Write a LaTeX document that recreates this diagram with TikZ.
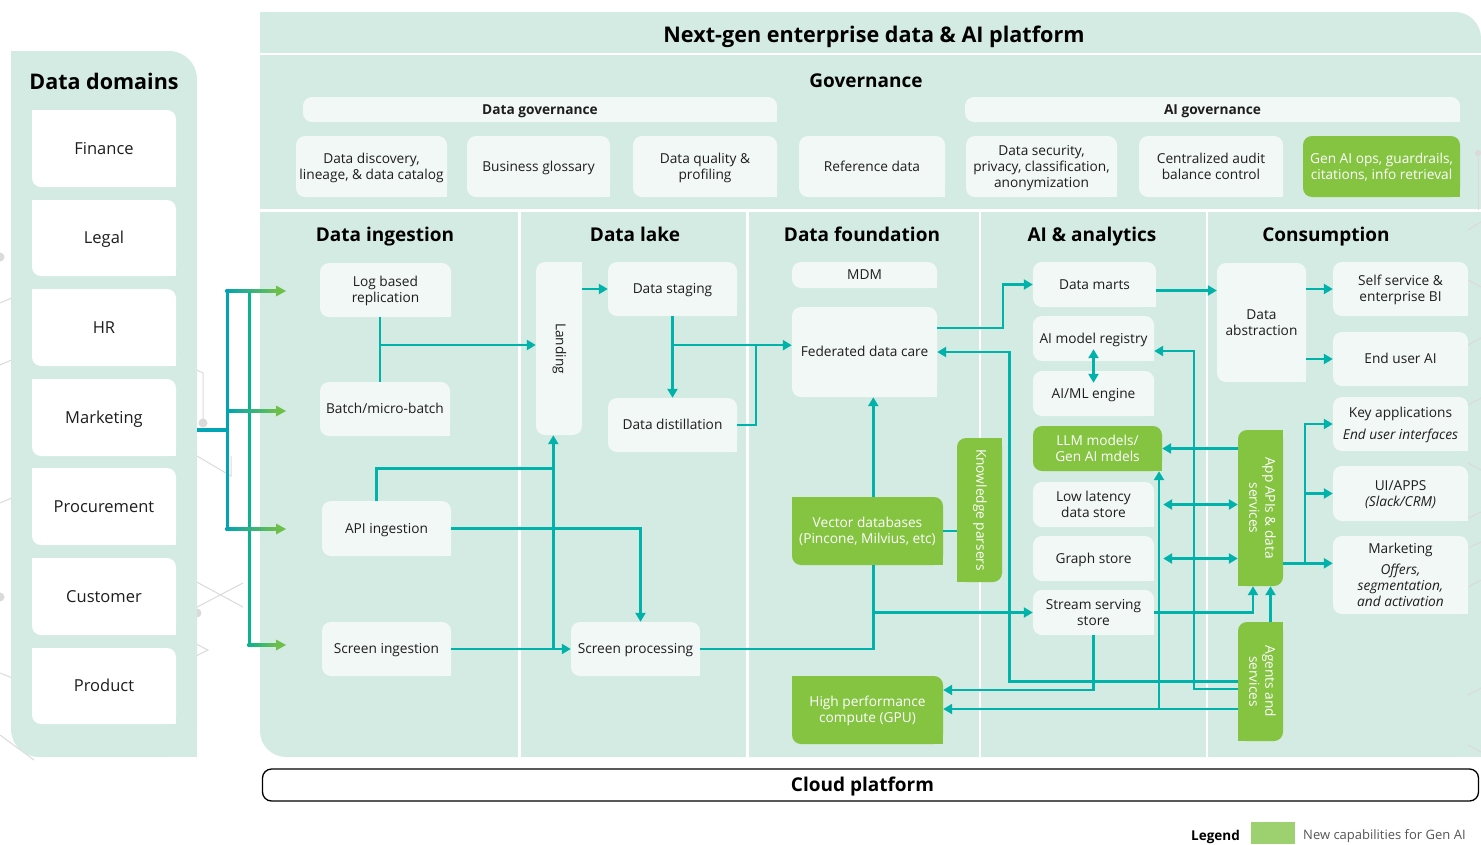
\documentclass[tikz,border=0pt]{standalone}
\usepackage{fontspec}
\setmainfont{Open Sans}
\usepackage{graphicx}
\usetikzlibrary{arrows.meta,calc}

\definecolor{mint}{HTML}{D3EBE2}
\definecolor{boxf}{HTML}{F2F8F6}
\definecolor{gr}{HTML}{84C441}
\definecolor{lnk}{HTML}{00B2A9}
\definecolor{feedA}{HTML}{00A4B5}
\definecolor{feedB}{HTML}{08B38E}
\definecolor{feedG}{HTML}{6CC04A}
\definecolor{txt}{HTML}{1E1E1E}
\definecolor{deco}{HTML}{DADADA}
\definecolor{legg}{HTML}{9DD06F}
\definecolor{legtxt}{HTML}{555555}

\newcommand\fs[2]{\fontsize{#1}{#2}\selectfont}
% struts that balance cap height against descenders
\newcommand\tst{\rule{0pt}{0.97em}}
\newcommand\bst{\rule[-0.26em]{0pt}{0.26em}}

\tikzset{
  box/.style={fill=boxf, rounded corners=9pt, inner sep=2pt, align=center,
    text=txt, font=\fs{13.7}{16}},
  gbox/.style={box, fill=gr, text=white},
  dbox/.style={box, fill=white, font=\fs{16.5}{19}},
  barbox/.style={box, font=\bfseries\fs{13.7}{16}},
  conn/.style={draw=lnk, line width=2.5pt},
  arr/.style={conn, -{Triangle[length=9pt,width=10pt]}},
  dbl/.style={conn, {Triangle[length=9pt,width=10pt]}-{Triangle[length=9pt,width=10pt]}},
  head/.style={font=\bfseries\fs{19}{22}, text=black, text height=13.6pt, text depth=0pt, inner sep=0pt},
  decoline/.style={draw=deco, line width=1pt},
}

% box from its corners (x1,y1) top-left to (x2,y2) bottom-right
\newcommand\bx[7][]{\node[box,#1,minimum width={(#5)-(#3)},minimum height={(#6)-(#4)}]
  (#2) at ({((#3)+(#5))/2},{((#4)+(#6))/2}) {\tst#7\bst};}
% upright box holding rotated text
\newcommand\vbx[7][]{\node[box,#1,minimum width={(#5)-(#3)},minimum height={(#6)-(#4)}]
  (#2) at ({((#3)+(#5))/2},{((#4)+(#6))/2}) {\rotatebox{-90}{\begin{tabular}{@{}c@{}}#7\end{tabular}}};}
% square off single corners
\newcommand\sqse[2]{\fill[#2] (#1.south east) rectangle ++(-10,-10);}
\newcommand\sqnw[2]{\fill[#2] (#1.north west) rectangle ++(10,10);}
\newcommand\sqne[2]{\fill[#2] (#1.north east) rectangle ++(-10,10);}
\newcommand\sqsw[2]{\fill[#2] (#1.south west) rectangle ++(10,-10);}

\begin{document}
\begin{tikzpicture}[x=1pt,y=-1pt]
\useasboundingbox (0,0) rectangle (1481,844);

% ---------- faint background network ----------
\begin{scope}[decoline]
  \fill[deco] (0,257) circle (4.5);
  \draw (0,303) -- (30,290);
  \draw (0,365) -- (30,352);
  \draw (0,503) -- (30,490);
  \fill[deco] (0,597) circle (4.5);
  \draw (0,673) -- (30,685);
  \draw (0,735) -- (34,760);
  \draw (180,362) -- (203,373) -- (203,423);
  \fill[deco] (203,423) circle (4.5);
  \draw (180,446) -- (231,476) -- (231,456);
  \draw (180,573) -- (243,607);
  \draw (180,616) -- (243,583);
  \fill[deco] (197,613) circle (4.5);
  \draw (180,636) -- (208,650) -- (180,664);
\end{scope}

% ---------- data domains panel ----------
\fill[mint, rounded corners=28pt] (11,51) rectangle (197,757);
\fill[mint] (11,51) rectangle (50,90);
\fill[mint] (197,757) rectangle (158,718);
\coordinate (dpe) at (197,430);
\node[font=\bfseries\fs{21.5}{25}, text=black, text height=15.4pt, text depth=0pt, inner sep=0pt] (domt) at (104,82) {Data domains};

\foreach \nm/\ya/\yb/\lab in {fin/110/187/Finance, leg/200/276/Legal, hr/289/366/HR,
    mkt/379/456/Marketing, proc/468/545/Procurement, cust/558/635/Customer,
    prod/648/724/Product}{
  \bx[dbox]{\nm}{32}{\ya}{176}{\yb}{\lab}
  \sqse{\nm}{white}
  \sqnw{\nm}{white}
}

% ---------- platform panel ----------
\fill[mint, rounded corners=26pt] (260,12) rectangle (1481,757);
\fill[mint] (260,12) rectangle (300,52);
\fill[mint] (1481,757) rectangle (1441,717);
\draw[white, line width=2.5pt] (260,54) -- (1481,54);
\draw[white, line width=2.5pt] (260,210.5) -- (1481,210.5);
\foreach \x in {519.5,747.5,980,1207}
  \draw[white, line width=2.5pt] (\x,211) -- (\x,757);

% right-edge background strokes
\begin{scope}[decoline]
  \draw (1478,210) -- (1478,153); \fill[deco] (1478,153) circle (3);
  \draw (1468,230) -- (1481,222);
  \draw (1468,280) -- (1481,287);
  \draw (1468,345) -- (1481,338);
  \draw (1468,405) -- (1481,398);
  \draw (1468,463) -- (1481,470);
  \draw (1468,518) -- (1481,512);
  \draw (1468,548) -- (1481,542);
  \draw (1468,587) -- (1481,580);
  \draw (1468,695) -- (1481,688);
  \draw (1468,745) -- (1481,752);
\end{scope}

\node[font=\bfseries\fs{21.6}{25}, text=black, text height=15.4pt, text depth=0pt, inner sep=0pt] (platt) at (874,34.5) {Next-gen enterprise data \& AI platform};
\node[head] (govt) at (866,81) {Governance};

% ---------- governance ----------
\bx[barbox]{dgov}{303}{97}{777}{122}{Data governance} \sqse{dgov}{boxf}
\bx[barbox]{aigov}{965}{97}{1460}{122}{AI governance} \sqse{aigov}{boxf}

\bx{gd1}{296}{136}{447}{197}{Data discovery,\\lineage, \& data catalog} \sqse{gd1}{boxf}
\bx{gd2}{467}{136}{610}{197}{Business glossary} \sqse{gd2}{boxf}
\bx{gd3}{633}{136}{777}{197}{Data quality \&\\profiling} \sqse{gd3}{boxf}
\bx{gd4}{799}{136}{945}{197}{Reference data} \sqse{gd4}{boxf}
\bx{gd5}{966}{136}{1117}{197}{Data security,\\privacy, classification,\\anonymization} \sqse{gd5}{boxf}
\bx{gd6}{1139}{136}{1283}{197}{Centralized audit\\balance control} \sqse{gd6}{boxf}
\bx[gbox]{gd7}{1303}{136}{1460}{197}{Gen AI ops, guardrails,\\citations, info retrieval} \sqse{gd7}{gr}

% ---------- column headings ----------
\node[head] (h1) at (385,235) {Data ingestion};
\node[head] (h2) at (635,235) {Data lake};
\node[head] (h3) at (862,235) {Data foundation};
\node[head] (h4) at (1092,235) {AI \& analytics};
\node[head] (h5) at (1326,235) {Consumption};

% ---------- data ingestion ----------
\bx{logr}{320}{263}{451}{317}{Log based\\replication} \sqse{logr}{boxf}
\bx{batch}{320}{382}{450}{436}{Batch/micro-batch} \sqse{batch}{boxf}
\bx{api}{322}{501}{451}{556}{API ingestion} \sqse{api}{boxf}
\bx{scri}{322}{622}{451}{676}{Screen ingestion} \sqse{scri}{boxf}

% ---------- data lake ----------
\vbx{land}{536}{262}{582}{435}{Landing} \sqne{land}{boxf}
\bx{stag}{608}{262}{737}{316}{Data staging} \sqse{stag}{boxf}
\bx{dist}{608}{398}{737}{452}{Data distillation} \sqse{dist}{boxf}
\bx{scrp}{571}{622}{700}{676}{Screen processing} \sqse{scrp}{boxf}

% ---------- data foundation ----------
\bx{mdm}{792}{262}{937}{288}{MDM} \sqse{mdm}{boxf}
\bx{fed}{792}{307}{937}{397}{Federated data care} \sqse{fed}{boxf}
\bx[gbox]{vec}{792}{497}{943}{565}{Vector databases\\(Pincone, Milvius, etc)} \sqse{vec}{gr} \sqnw{vec}{gr}
\vbx[gbox]{know}{957}{438}{1002}{582}{Knowledge parsers} \sqne{know}{gr} \sqsw{know}{gr}
\bx[gbox]{gpu}{792}{676}{943}{744}{High performance\\compute (GPU)} \sqse{gpu}{gr} \sqnw{gpu}{gr}

% ---------- AI & analytics ----------
\bx{marts}{1033}{262}{1156}{307}{Data marts} \sqse{marts}{boxf}
\bx{reg}{1033}{316}{1154}{361}{AI model registry} \sqse{reg}{boxf}
\bx{eng}{1033}{371}{1154}{416}{AI/ML engine} \sqse{eng}{boxf}
\bx[gbox]{llm}{1033}{426}{1162}{471}{LLM models/\\Gen AI mdels} \sqse{llm}{gr}
\bx{lowl}{1033}{482}{1154}{527}{Low latency\\data store} \sqse{lowl}{boxf}
\bx{graph}{1033}{536}{1154}{581}{Graph store} \sqse{graph}{boxf}
\bx{stream}{1033}{590}{1154}{635}{Stream serving\\store} \sqse{stream}{boxf}

% ---------- consumption ----------
\bx{abs}{1217}{263}{1306}{382}{Data\\abstraction} \sqse{abs}{boxf}
\bx{bi}{1333}{262}{1468}{316}{Self service \&\\enterprise BI} \sqse{bi}{boxf}
\bx{euai}{1333}{332}{1468}{386}{End user AI} \sqse{euai}{boxf}
\bx{keyapp}{1333}{397}{1468}{451}{Key applications\\[6pt]\textit{End user interfaces}} \sqse{keyapp}{boxf}
\bx{uiapps}{1333}{466}{1468}{521}{UI/APPS\\\textit{(Slack/CRM)}} \sqse{uiapps}{boxf}
\bx{mktc}{1333}{536}{1468}{614}{Marketing\\[5pt]\textit{Offers,}\\\textit{segmentation,}\\\textit{and activation}} \sqse{mktc}{boxf}
\vbx[gbox]{appapi}{1238}{430}{1283}{586}{App APIs \& data\\services} \sqne{appapi}{gr} \sqsw{appapi}{gr}
\vbx[gbox]{agents}{1238}{622}{1283}{741}{Agents and\\services} \sqne{agents}{gr} \sqsw{agents}{gr}

% ---------- feeds from the data domains ----------
\coordinate (fj) at (227,430);
\coordinate (in1) at (286,291);
\coordinate (in2) at (286,411);
\coordinate (in3) at (286,529);
\coordinate (in4) at (286,645);
\draw[feedA, line width=4pt] (dpe) -- (fj);
\draw[feedB, line width=3pt] (249,291) -- (249,646.5);
\draw[feedA, line width=3pt] (in1 -| fj) ++(0,-1.5) -- (in3 -| fj) -- ++(0,1.5);
\foreach \t/\xx/\cc in {in1/225.5/feedA, in2/227/feedA, in3/225.5/feedA, in4/247.5/feedB}{
  \shade[left color=\cc, right color=feedG] ($(\t -| \xx,0)+(0,-1.5)$) rectangle ($(\t)+(-9,1.5)$);
  \fill[feedG] (\t) -- ++(-10,-5.5) -- ++(0,11) -- cycle;
}

% ---------- ingestion and lake flows ----------
\coordinate (jc) at (380,0);
\draw[conn] (jc |- logr.south) -- (jc |- batch.north);
\coordinate (jl) at (380,345);
\draw[arr] (jl) -- (jl -| land.west);
\coordinate (ja) at (553.3,468.3);
\draw[arr] (scri.east) -- (scrp.west);
\draw[arr] (ja |- scri.east) -- (ja |- land.south);
\draw[conn] ([xshift=-10pt]api.north) |- (ja);
\draw[arr] (api.east) -| ([xshift=5pt]scrp.north);

\draw[arr] (land.east |- stag.west) -- (stag.west);
\draw[arr] (stag.south) -- (dist.north);
\path (stag.south) ++(0,29) coordinate (js);
\draw[arr] (js) -- (js -| fed.west);
\coordinate (jd) at (756,345);
\draw[conn] (dist.east) -| (jd);

% ---------- foundation flows ----------
\coordinate (jx) at (873.3,0);
\draw[conn] (scrp.east) -| (jx |- vec.south);
\draw[arr] (jx |- vec.north) -- (jx |- fed.south);
\draw[arr] (jx |- stream.west) -- (stream.west);
\draw[conn] (vec.east) -- (vec.east -| know.west);
\draw[arr] ([yshift=24pt]fed.east) -- ++(66,0) |- (marts.west);

% ---------- agents and services returns ----------
\coordinate (r1) at (1009.3,681.7);
\draw[arr] (r1 -| agents.west) -- (r1) |- (fed.east);
\coordinate (r2) at (1194,689);
\draw[arr] (r2 -| agents.west) -- (r2) |- ([yshift=-12.5pt]reg.east);
\coordinate (r3) at (1159,709);
\draw[arr] (r3 -| agents.west) -- (r3 -| gpu.east);
\draw[arr] (r3) -- (r3 |- llm.south);
\draw[arr] (stream.south) |- ([yshift=20pt]gpu.east);

% ---------- AI & analytics flows ----------
\draw[dbl] ([yshift=12pt]reg.south) -- ([yshift=-12pt]eng.north);
\draw[arr] (llm.east -| appapi.west) -- (llm.east);
\draw[dbl] ([xshift=9pt]lowl.east) -- (lowl.east -| appapi.west);
\draw[dbl] ([xshift=9pt]graph.east) -- (graph.east -| appapi.west);
\draw[arr] (stream.east) -| ([xshift=-7.5pt]appapi.south);
\draw[arr] ([xshift=10pt]agents.north) -- ([xshift=10pt]appapi.south);

% ---------- consumption flows ----------
\coordinate (m1) at ([yshift=-6pt]marts.east);
\draw[arr] (m1) -- (m1 -| abs.west);
\draw[arr] (abs.east |- bi.west) -- (bi.west);
\draw[arr] (abs.east |- euai.west) -- (euai.west);
\coordinate (c22) at (1305,563.3);
\draw[arr] (c22 -| appapi.east) -- (c22 -| mktc.west);
\draw[arr] (c22) |- (keyapp.west);
\draw[arr] (c22 |- uiapps.west) -- (uiapps.west);

% ---------- cloud platform and legend ----------
\node[draw=black, line width=1.3pt, fill=white, rounded corners=9pt,
  minimum width=1216pt, minimum height=32pt, inner sep=0pt,
  font=\bfseries\fs{19}{22}, text=black, text height=13.6pt, text depth=0pt]
  (cloud) at (870.5,785) {\hspace*{-16pt}Cloud platform};
\node[font=\bfseries\fs{13.5}{16}, text=black, anchor=east, text height=9.6pt, text depth=0pt, inner sep=0pt] (legt) at (1240,836) {Legend};
\node[fill=legg, minimum width=44pt, minimum height=22pt, inner sep=0pt] (legsw) at (1273,833) {};
\node[font=\fs{13}{15}, text=legtxt, anchor=west, text height=9.3pt, text depth=0pt, inner sep=0pt] (legl) at (1303,835) {New capabilities for Gen AI};

\end{tikzpicture}
\end{document}
